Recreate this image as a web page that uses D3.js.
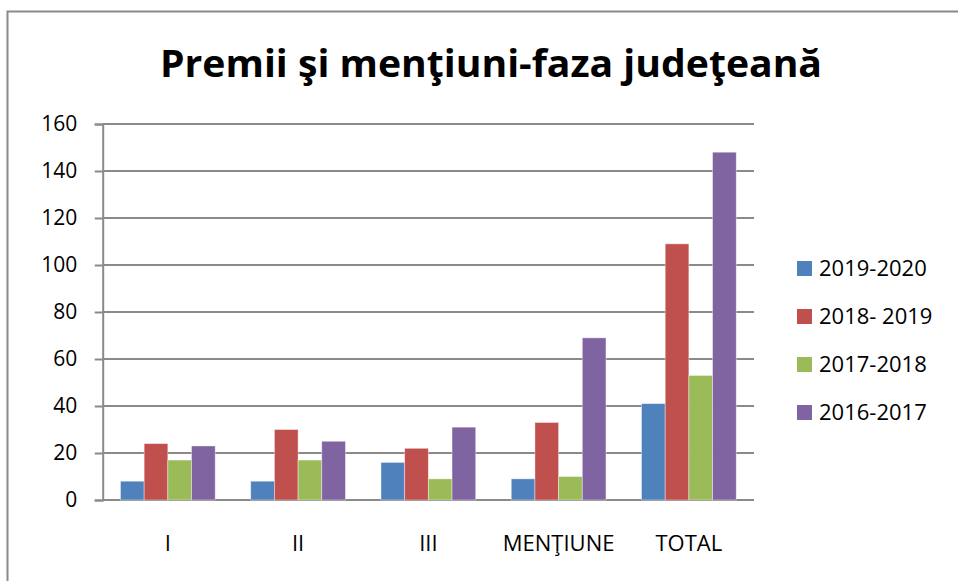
<!DOCTYPE html>
<html>
<head>
<meta charset="utf-8">
<script src="https://cdn.jsdelivr.net/npm/d3@7"></script>
<style>
  body { margin: 0; background: #fff; }
  svg { display: block; font-family: "Open Sans", sans-serif; }
</style>
</head>
<body>
<svg width="958" height="581"></svg>
<script>
// datos
const categorias = ["I", "II", "III", "MENŢIUNE", "TOTAL"];
const series = ["2019-2020", "2018- 2019", "2017-2018", "2016-2017"];
const v2019_2020 = [8, 8, 16, 9, 41];
const v2018_2019 = [24, 30, 22, 33, 109];
const v2017_2018 = [17, 17, 9, 10, 53];
const v2016_2017 = [23, 25, 31, 69, 148];
const yTicks = [0, 20, 40, 60, 80, 100, 120, 140, 160];
const colores = ["#4F81BD", "#C0504D", "#9BBB59", "#8064A2"];

const valores = [v2019_2020, v2018_2019, v2017_2018, v2016_2017];

const svg = d3.select("svg");

// marco del gráfico (abierto a la derecha y abajo)
svg.append("path")
  .attr("d", "M7.5,581 L7.5,11.5 L958,11.5")
  .attr("fill", "none")
  .attr("stroke", "#8a8a8a")
  .attr("stroke-width", 2);

// título
svg.append("text")
  .attr("x", 160)
  .attr("y", 77)
  .attr("textLength", 662)
  .attr("lengthAdjust", "spacingAndGlyphs")
  .style("font-size", "38px")
  .style("font-weight", "bold")
  .style("fill", "#000")
  .text("Premii şi menţiuni-faza judeţeană");

const plotLeft = 102.7, plotRight = 754, plotTop = 124, plotBottom = 500;

const x = d3.scaleBand().domain(categorias).range([plotLeft, plotRight]).padding(0);
const bw = x.bandwidth() / 5.5;
const xs = d3.scaleBand().domain(series)
  .range([bw * 0.75, x.bandwidth() - bw * 0.75]).padding(0);
const y = d3.scaleLinear().domain([0, 160]).range([plotBottom, plotTop]);

// eje Y
const yAxis = d3.axisLeft(y).tickValues(yTicks).tickSize(8).tickPadding(17.5);
const gy = svg.append("g").attr("transform", `translate(${plotLeft},0)`).call(yAxis)
  .attr("font-family", null).attr("font-size", null);
gy.select(".domain").attr("stroke", "#8a8a8a").attr("stroke-width", 2);
gy.selectAll(".tick line").attr("stroke", "#8a8a8a").attr("stroke-width", 2);
gy.selectAll(".tick text").style("font-size", "21px").style("fill", "#000");

// líneas de cuadrícula
svg.append("g").selectAll("line")
  .data(yTicks)
  .enter()
  .append("line")
  .attr("x1", plotLeft)
  .attr("x2", plotRight)
  .attr("y1", d => y(d))
  .attr("y2", d => y(d))
  .attr("stroke", "#8a8a8a")
  .attr("stroke-width", 2);

// barras
series.forEach((s, i) => {
  svg.append("g").selectAll("rect")
    .data(valores[i])
    .enter()
    .append("rect")
    .attr("x", (d, j) => x(categorias[j]) + xs(s))
    .attr("y", d => y(d))
    .attr("width", xs.bandwidth())
    .attr("height", d => plotBottom - y(d))
    .attr("fill", colores[i])
    .attr("stroke", "#ffffff")
    .attr("stroke-opacity", 0.5)
    .attr("stroke-width", 0.8);
});

// etiquetas del eje X
const xAxis = d3.axisBottom(x).tickSize(0).tickPadding(35);
const gx = svg.append("g").attr("transform", `translate(0,${plotBottom})`).call(xAxis)
  .attr("font-family", null).attr("font-size", null);
gx.select(".domain").remove();
gx.selectAll(".tick text").style("font-size", "22px").style("fill", "#000");

// leyenda
const leyenda = svg.append("g").selectAll("g")
  .data(series)
  .enter()
  .append("g")
  .attr("transform", (d, i) => `translate(797,${268.5 + i * 48})`);

leyenda.append("rect")
  .attr("x", 0)
  .attr("y", -7.5)
  .attr("width", 15)
  .attr("height", 15)
  .attr("fill", (d, i) => colores[i]);

leyenda.append("text")
  .attr("x", 22)
  .attr("y", 0)
  .attr("dy", "0.36em")
  .style("font-size", "22px")
  .style("fill", "#000")
  .text(d => d);
</script>
</body>
</html>
